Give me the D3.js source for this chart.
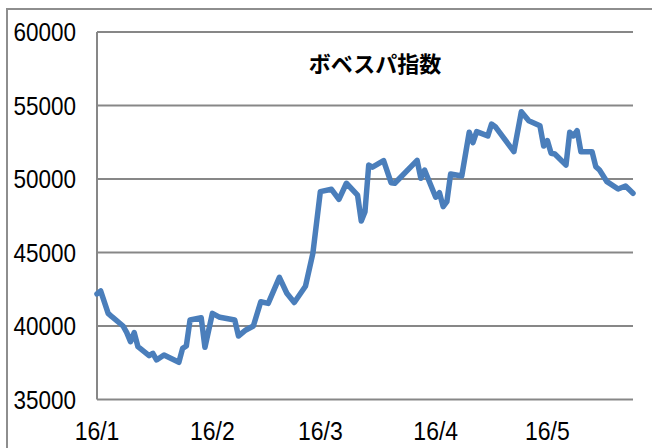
<!DOCTYPE html>
<html>
<head>
<meta charset="utf-8">
<script src="https://cdn.jsdelivr.net/npm/d3@7"></script>
<style>
  body { margin: 0; background: #fff; }
  svg { display: block; }
</style>
</head>
<body>
<svg id="chart" width="652" height="448"></svg>
<script>
// ボベスパ指数, 2016
var title = "ボベスパ指数";
var dates = [
  "2016-01-01", "2016-01-02", "2016-01-04", "2016-01-05", "2016-01-08", "2016-01-09",
  "2016-01-10", "2016-01-11", "2016-01-12", "2016-01-15", "2016-01-16", "2016-01-17",
  "2016-01-19", "2016-01-23", "2016-01-24", "2016-01-25", "2016-01-26", "2016-01-29",
  "2016-01-30", "2016-02-01", "2016-02-03", "2016-02-07", "2016-02-08", "2016-02-10",
  "2016-02-12", "2016-02-14", "2016-02-16", "2016-02-19", "2016-02-21", "2016-02-23",
  "2016-02-26", "2016-02-28", "2016-03-01", "2016-03-04", "2016-03-06", "2016-03-08",
  "2016-03-11", "2016-03-12", "2016-03-13", "2016-03-14", "2016-03-15", "2016-03-18",
  "2016-03-20", "2016-03-21", "2016-03-27", "2016-03-28", "2016-03-29", "2016-04-01",
  "2016-04-02", "2016-04-03", "2016-04-04", "2016-04-05", "2016-04-08", "2016-04-10",
  "2016-04-11", "2016-04-12", "2016-04-15", "2016-04-16", "2016-04-17", "2016-04-22",
  "2016-04-24", "2016-04-26", "2016-04-29", "2016-04-30", "2016-05-01", "2016-05-02",
  "2016-05-03", "2016-05-06", "2016-05-07", "2016-05-08", "2016-05-09", "2016-05-10",
  "2016-05-13", "2016-05-14", "2016-05-15", "2016-05-17", "2016-05-20", "2016-05-22",
  "2016-05-24"
];
var values = [
  42180, 42380, 40860, 40630, 40000, 39550,
  38930, 39550, 38590, 37980, 38140, 37690,
  38030, 37530, 38480, 38640, 40410, 40560,
  38550, 40860, 40590, 40410, 39320, 39730,
  40000, 41650, 41540, 43310, 42230, 41600,
  42700, 44950, 49140, 49300, 48620, 49710,
  48910, 47140, 47780, 50950, 50800, 51250,
  49750, 49710, 51270, 50050, 50610, 48760,
  49070, 48120, 48460, 50340, 50200, 53180,
  52470, 53220, 52930, 53740, 53560, 51860,
  54580, 53970, 53630, 52240, 52610, 51750,
  51700, 50950, 53180, 52930, 53290, 51860,
  51860, 50840, 50610, 49820, 49320, 49520,
  49030
];
var yTicks = [35000, 40000, 45000, 50000, 55000, 60000];
var xTicks = ["2016-01-01", "2016-02-01", "2016-03-01", "2016-04-01", "2016-05-01"];

var parse = d3.timeParse("%Y-%m-%d");
var data = dates.map((d, i) => ({date: parse(d), value: values[i]}));

var svg = d3.select("#chart");
var plotLeft = 97, plotRight = 633, plotTop = 32, plotBottom = 399.5;

var x = d3.scaleTime()
  .domain([parse(dates[0]), parse(dates[dates.length - 1])])
  .range([plotLeft, plotRight]);
var y = d3.scaleLinear()
  .domain([35000, 60000])
  .range([plotBottom, plotTop]);

var grey = "#878787";
// the labels in the original are a little taller than wide
var stretch = 1.15;

// outer frame (runs off the picture at right and bottom)
svg.append("rect")
  .attr("x", 7).attr("y", 9)
  .attr("width", 700).attr("height", 500)
  .attr("fill", "none")
  .attr("stroke", "#8e8e8e")
  .attr("stroke-width", 2);

// gridlines
svg.append("g")
  .selectAll("line")
  .data(yTicks)
  .enter()
  .append("line")
  .attr("x1", plotLeft).attr("x2", plotRight)
  .attr("y1", d => y(d)).attr("y2", d => y(d))
  .attr("stroke", grey)
  .attr("stroke-width", 2);

// left axis line
svg.append("line")
  .attr("x1", plotLeft).attr("x2", plotLeft)
  .attr("y1", plotTop).attr("y2", plotBottom)
  .attr("stroke", grey)
  .attr("stroke-width", 2);

// y labels
svg.append("g")
  .selectAll("text")
  .data(yTicks)
  .enter()
  .append("text")
  .attr("transform", d => "translate(76," + y(d) + ") scale(1," + stretch + ")")
  .attr("dy", "0.36em")
  .attr("text-anchor", "end")
  .style("font-family", "'Liberation Sans', Arial, sans-serif")
  .style("font-size", "22.5px")
  .text(d => d);

// x labels
var fmt = d3.timeFormat("%y/%-m");
svg.append("g")
  .selectAll("text")
  .data(xTicks.map(parse))
  .enter()
  .append("text")
  .attr("transform", d => "translate(" + x(d) + ",440) scale(1," + stretch + ")")
  .attr("text-anchor", "middle")
  .style("font-family", "'Liberation Sans', Arial, sans-serif")
  .style("font-size", "23px")
  .text(d => fmt(d));

// title
svg.append("text")
  .attr("x", 375)
  .attr("y", 72)
  .attr("text-anchor", "middle")
  .style("font-family", "'Noto Sans CJK JP', sans-serif")
  .style("font-weight", "bold")
  .style("font-size", "22px")
  .text(title);

// line
var line = d3.line()
  .x(d => x(d.date))
  .y(d => y(d.value));

svg.append("path")
  .datum(data)
  .attr("d", line)
  .attr("fill", "none")
  .attr("stroke", "#4a7ebb")
  .attr("stroke-width", 5.5)
  .attr("stroke-linejoin", "round")
  .attr("stroke-linecap", "round");
</script>
</body>
</html>
